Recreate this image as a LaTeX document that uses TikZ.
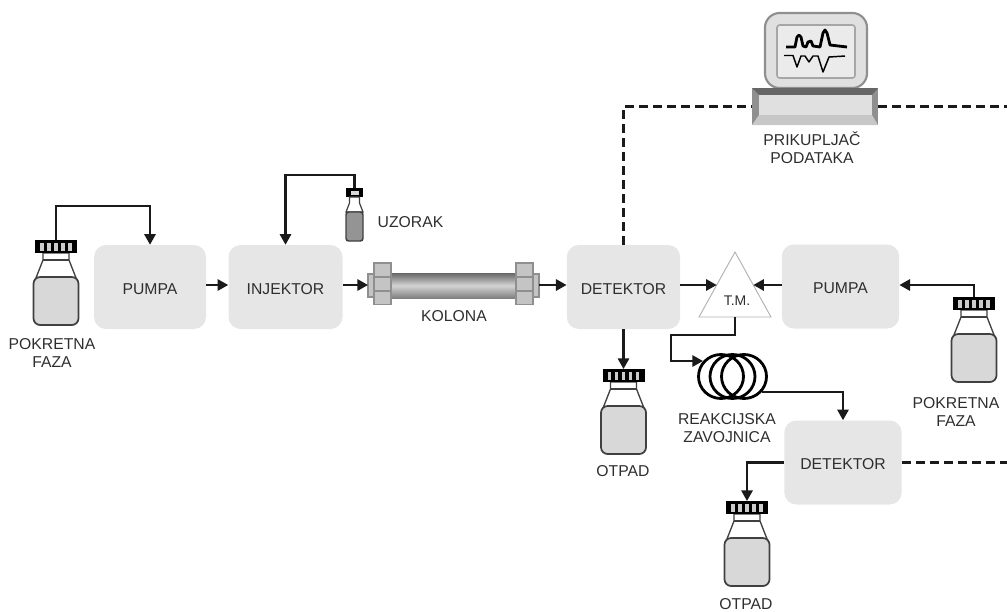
\documentclass[tikz,border=0pt]{standalone}
\usepackage{fontspec}
\setmainfont{Liberation Sans}
\usetikzlibrary{arrows.meta,calc}
\definecolor{boxgray}{HTML}{E6E6E6}
\definecolor{liquid}{HTML}{D8D8D8}
\definecolor{inkgray}{HTML}{2E2E2E}
\definecolor{linegray}{HTML}{1A1A1A}
\definecolor{metal}{HTML}{C4C4C4}
\definecolor{metaledge}{HTML}{8F8F8F}
\tikzset{
  x=.75pt,y=-.75pt,
  procbox/.style={fill=boxgray,rounded corners=9pt,inner sep=0pt,minimum height=63pt,text=inkgray,font=\fontsize{11.8}{13.5}\selectfont,text height=10.5pt,text depth=0pt},
  lbl/.style={text=inkgray,font=\fontsize{11.8}{13.5}\selectfont,align=center,inner sep=0pt},
  ghost/.style={inner sep=0pt,outer sep=0pt},
  flow/.style={draw=linegray,line width=1.6pt,-{Triangle[length=8pt,width=8.5pt]}},
  signal/.style={draw=linegray,line width=1.7pt,dash pattern=on 6.75pt off 3.75pt},
  pics/bottlepic/.style={code={
    \draw[line width=1pt,draw=black!75,fill=white] (-13,13) -- (-13,20) -- (-22,43) -- (22,43) -- (13,20) -- (13,13) -- cycle;
    \draw[line width=.9pt,draw=black!75] (-13,20) -- (13,20);
    \draw[line width=1.3pt,draw=black!75,fill=liquid,rounded corners=5pt] (-22.5,37) rectangle (22.5,85);
    \fill[black] (-21,0) rectangle (21,13);
    \foreach \rx in {-14.5,-7.5,-0.5,6.5,13.5} {\fill[white!80!black] (\rx-1.5,2.5) rectangle ++(3.5,8);}
  }},
  pics/vialpic/.style={code={
    \fill[black] (-8.5,0) rectangle (8.5,9);
    \fill[white!85!black] (-4,2.5) rectangle (4,6.5);
    \draw[line width=.9pt,draw=black!75,fill=white] (-5,9) -- (-5,15) -- (-8.5,24) -- (8.5,24) -- (5,15) -- (5,9) -- cycle;
    \draw[line width=1.1pt,draw=black!75,fill=black!42,rounded corners=2pt] (-8.5,24) rectangle (8.5,53);
  }},
  pics/flangepic/.style={code={
    \foreach \fy in {0,14,28} {\draw[draw=metaledge,line width=1.1pt,fill=metal] (0,\fy) rectangle (17,\fy+13.5);}
  }}
}
\begin{document}
\begin{tikzpicture}
\useasboundingbox (0,0) rectangle (1007,611);

% process boxes
\node[procbox,minimum width=84pt] (pumpA) at (150,287) {PUMPA};
\node[procbox,minimum width=85.5pt] (inj) at (285.5,287) {INJEKTOR};
\node[procbox,minimum width=85pt] (detA) at (623.5,287) {DETEKTOR};
\node[procbox,minimum width=88pt] (pumpB) at (840.5,286.5) {PUMPA};
\node[procbox,minimum width=88pt] (detB) at (843,462.5) {DETEKTOR};

% placeholders for the drawn items
\node[ghost,minimum width=31.5pt,minimum height=63.75pt] (botA) at (56,282.5) {};
\node[ghost,minimum width=31.5pt,minimum height=63.75pt] (botB) at (974,339.5) {};
\node[ghost,minimum width=31.5pt,minimum height=63.75pt] (botC) at (623.5,411.5) {};
\node[ghost,minimum width=31.5pt,minimum height=63.75pt] (botD) at (747,543.5) {};
\node[ghost,minimum width=12.75pt,minimum height=39.75pt] (vial) at (354.5,214.5) {};
\node[ghost,minimum width=128.25pt,minimum height=30.75pt] (col) at (453.5,285) {};
\node[ghost,minimum width=94.5pt,minimum height=27.75pt] (mon) at (815,106.5) {};

% bottles
\pic at (56,240) {bottlepic};
\pic at (974,297) {bottlepic};
\pic at (623.5,369) {bottlepic};
\pic at (747,501) {bottlepic};
\pic at (354.5,188) {vialpic};

% column
\draw[draw=metaledge,line width=.8pt,fill=metal] (368,274) rectangle (374,297);
\draw[draw=metaledge,line width=.8pt,fill=metal] (533,274) rectangle (539,297);
\fill[top color=black!60,bottom color=black!50,middle color=black!17] (391,273) rectangle (516,298);
\pic at (374,263) {flangepic};
\pic at (516,263) {flangepic};

% T-piece
\coordinate (tmL) at (716.7,285);
\coordinate (tmR) at (753.3,285);
\coordinate (tmS) at (735,317);
\draw[draw=black!30,line width=.7pt,fill=white] (735,252) -- (771,317) -- (699,317) -- cycle;
\node[lbl,font=\fontsize{10.5}{12}\selectfont] (tm) at (737,301) {T.M.};

% coil
\foreach \cx in {721,732.5,744} {\draw[black,line width=2.1pt] (\cx,376.5) ellipse [x radius=22.5,y radius=22];}
\coordinate (coilIn) at (703,361);
\coordinate (coilOut) at (762,392);

% monitor
\draw[draw=metaledge,line width=1.6pt,fill=black!12,rounded corners=11pt] (765,13) rectangle (867,88);
\draw[draw=black!35,line width=1.2pt,fill=black!8,rounded corners=2pt] (777,25) rectangle (855,78);
\draw[black,line width=2.1pt,line join=round] (786,47) -- (795,47) -- (797,37) -- (799,35) -- (801,37) -- (803,46) -- (806,47) -- (808,42) -- (811,41) -- (813,46) -- (820,47) -- (823,33) -- (825,30) -- (827,33) -- (830,45) -- (847,47);
\draw[black,line width=1.1pt,line join=round] (784,55.5) -- (793,55.5) -- (797,67) -- (801,56) -- (805,56) -- (809,62) -- (813,56) -- (818,56) -- (823,72) -- (829,57) -- (845,56);
\fill[metaledge] (752,88) rectangle (878,125);
\fill[black!60] (752,88) -- (878,88) -- (872,95) -- (759,95) -- cycle;
\fill[black!22] (752,125) -- (878,125) -- (872,115) -- (759,115) -- cycle;
\fill[black!12] (759,95) rectangle (872,115);

% labels
\node[lbl] (lA) at (52,353) {POKRETNA\\FAZA};
\node[lbl] (lU) at (410.5,222) {UZORAK};
\node[lbl] (lK) at (454,316) {KOLONA};
\node[lbl] (lP) at (812,148) {PRIKUPLJAČ\\PODATAKA};
\node[lbl] (lB) at (956,412) {POKRETNA\\FAZA};
\node[lbl] (lR) at (727,428) {REAKCIJSKA\\ZAVOJNICA};
\node[lbl] (lC) at (623,471) {OTPAD};
\node[lbl] (lD) at (746,604) {OTPAD};

% connectors
\draw[flow] (botA.north) -- ++(0,-34) -| (pumpA.north);
\draw[flow] (pumpA.east |- col.west) -- (inj.west |- col.west);
\draw[flow] (vial.north) -- ++(0,-13) -| (inj.north);
\draw[flow] (inj.east |- col.west) -- (col.west);
\draw[flow] (col.east) -- (detA.west |- col.east);
\draw[flow] (detA.east |- tmL) -- (tmL);
\draw[flow] (pumpB.west |- tmR) -- (tmR);
\draw[flow] (botB.north) -- ++(0,-12) -- (pumpB.east |- tmR);
\draw[flow] (detA.south) -- (botC.north);
\draw[flow] (tmS) -- ++(0,18) -| ($(coilIn)+(-32,0)$) -- (coilIn);
\draw[flow] (coilOut) -| (detB.north);
\draw[flow] (detB.west) -| (botD.north);
\coordinate (edgeA) at (1007,106.5);
\coordinate (edgeB) at (1007,462.5);
\draw[signal] (detA.north) |- (mon.west);
\draw[signal] (mon.east) -- (edgeA);
\draw[signal] (detB.east) -- (edgeB);
\end{tikzpicture}
\end{document}
